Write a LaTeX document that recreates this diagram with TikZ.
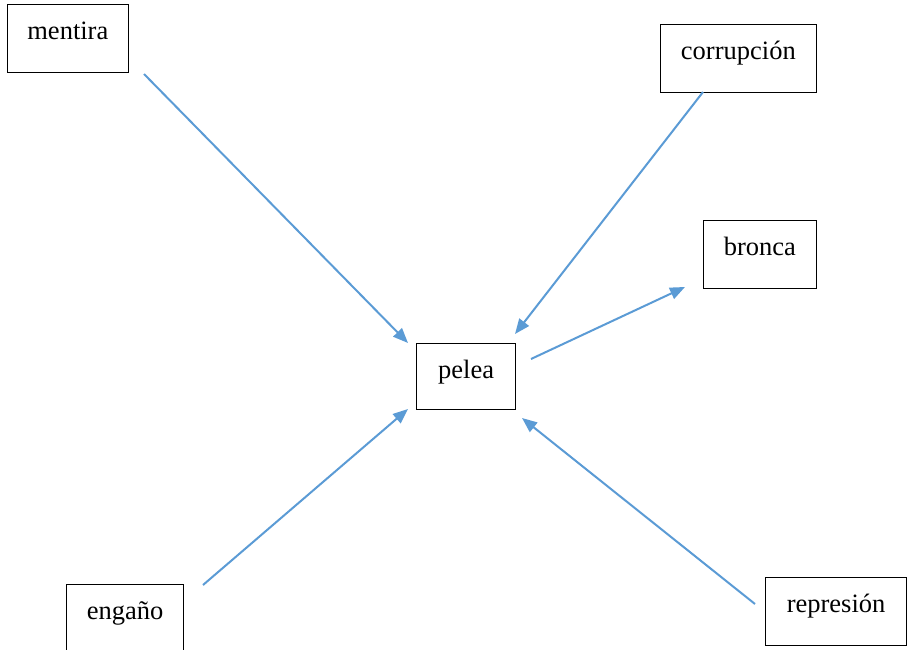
\documentclass[tikz,border=0pt]{standalone}
\usepackage{fontspec}
\setmainfont{Liberation Serif}
\usetikzlibrary{arrows.meta}
\definecolor{arrowblue}{HTML}{5B9BD5}
\tikzset{
  wordbox/.style={draw=black, line width=1.2pt, inner sep=0pt, anchor=north west,
    text height=35pt, align=center, font=\fontsize{26.5}{30}\selectfont},
  conn/.style={draw=arrowblue, line width=2pt, -{Triangle[length=15pt,width=12pt]}}
}
\begin{document}
\begin{tikzpicture}[x=1pt,y=-1pt]
\useasboundingbox (0,0) rectangle (907,650);
\clip (0,0) rectangle (907,650);
\node[wordbox, minimum width=121.5pt, text depth=33pt] (mentira) at (6.5,4) {mentira};
\node[wordbox, minimum width=155.5pt, text depth=33pt] (corrupcion) at (660,24) {corrupción};
\node[wordbox, minimum width=112.5pt, text depth=33pt] (bronca) at (703,219.5) {bronca};
\node[wordbox, minimum width=99pt, text depth=31pt] (pelea) at (416,343) {pelea};
\node[wordbox, minimum width=117pt, text depth=33pt] (engano) at (66,584) {engaño};
\node[wordbox, minimum width=141pt, text depth=33pt] (represion) at (765,577) {represión};

\coordinate (s1) at (144,74);   \coordinate (e1) at (408,343);
\coordinate (s2) at (703,92);   \coordinate (e2) at (515,334);
\coordinate (s3) at (531,359);  \coordinate (e3) at (685,287);
\coordinate (s4) at (203,585);  \coordinate (e4) at (408,409);
\coordinate (s5) at (755,604);  \coordinate (e5) at (522,418);

\draw[conn] (s1) -- (e1);
\draw[conn] (s2) -- (e2);
\draw[conn] (s3) -- (e3);
\draw[conn] (s4) -- (e4);
\draw[conn] (s5) -- (e5);
\end{tikzpicture}
\end{document}
